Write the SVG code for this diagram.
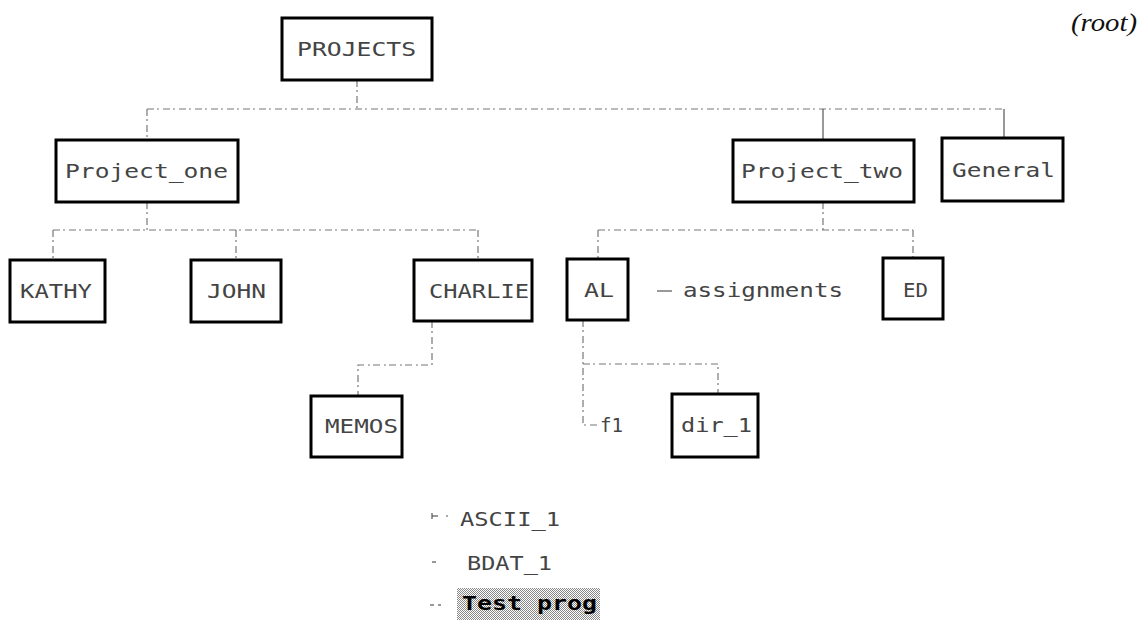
<svg xmlns="http://www.w3.org/2000/svg" width="1146" height="620" viewBox="0 0 1146 620">
<style>
.box{fill:#fff;stroke:#000;stroke-width:3}
.t{font-family:"DejaVu Sans Mono","Liberation Mono",monospace;font-size:20px;fill:#444}
.c{fill:none;stroke:#555;stroke-width:1.2}
.d{fill:none;stroke:#777;stroke-width:1.2;stroke-dasharray:7 3 2 4}
.root{font-family:"Liberation Serif",serif;font-style:italic;font-size:26px;fill:#111}
</style>
<defs>
<pattern id="shade" width="2" height="2" patternUnits="userSpaceOnUse">
<rect width="2" height="2" fill="#fff"/>
<rect width="1" height="1" fill="#888"/>
<rect x="1" y="1" width="1" height="1" fill="#888"/>
</pattern>
</defs>
<rect width="1146" height="620" fill="#fff"/>
<text class="root" x="1071" y="31" textLength="66" lengthAdjust="spacingAndGlyphs">(root)</text>
<g id="connectors">
<line class="d" x1="357" y1="80" x2="357" y2="109"/>
<line class="d" x1="147" y1="109" x2="1004" y2="109"/>
<line class="d" x1="147" y1="109" x2="147" y2="140"/>
<line class="c" x1="823" y1="109" x2="823" y2="140"/>
<line class="c" x1="1004" y1="109" x2="1004" y2="138"/>
<line class="d" x1="147" y1="202" x2="147" y2="230"/>
<line class="d" x1="53" y1="230" x2="478" y2="230"/>
<line class="d" x1="53" y1="230" x2="53" y2="260"/>
<line class="d" x1="236" y1="230" x2="236" y2="260"/>
<line class="d" x1="478" y1="230" x2="478" y2="260"/>
<line class="d" x1="823" y1="202" x2="823" y2="230"/>
<line class="d" x1="598" y1="230" x2="913" y2="230"/>
<line class="d" x1="598" y1="230" x2="598" y2="259"/>
<line class="d" x1="913" y1="230" x2="913" y2="259"/>
<polyline class="d" points="432,321 432,365 358,365 358,396"/>
<polyline class="d" points="583,320 583,425 598,425"/>
<polyline class="d" points="583,364 718,364 718,394"/>
<line class="c" x1="657" y1="291" x2="672" y2="291"/>
<line class="c" x1="432" y1="513" x2="432" y2="519"/>
<line class="c" x1="432" y1="516" x2="438" y2="516"/>
<line class="c" x1="446" y1="516" x2="448" y2="516"/>
<line class="c" x1="432" y1="562" x2="436" y2="562"/>
<line class="c" x1="430" y1="605" x2="434" y2="605"/>
<line class="c" x1="438" y1="605" x2="441" y2="605"/>
</g>
<g id="projects"><rect class="box" x="282" y="18" width="150" height="62"/><text class="t" x="297" y="56" textLength="119" lengthAdjust="spacingAndGlyphs">PROJECTS</text></g>
<g id="project_one"><rect class="box" x="56" y="140" width="182" height="62"/><text class="t" x="65" y="178" textLength="163" lengthAdjust="spacingAndGlyphs">Project_one</text></g>
<g id="project_two"><rect class="box" x="733" y="140" width="181" height="62"/><text class="t" x="741" y="178" textLength="162" lengthAdjust="spacingAndGlyphs">Project_two</text></g>
<g id="general"><rect class="box" x="942" y="138" width="121" height="63"/><text class="t" x="952" y="177" textLength="103" lengthAdjust="spacingAndGlyphs">General</text></g>
<g id="kathy"><rect class="box" x="10" y="260" width="95" height="62"/><text class="t" x="20" y="298" textLength="72" lengthAdjust="spacingAndGlyphs">KATHY</text></g>
<g id="john"><rect class="box" x="191" y="260" width="90" height="62"/><text class="t" x="207" y="298" textLength="59" lengthAdjust="spacingAndGlyphs">JOHN</text></g>
<g id="charlie"><rect class="box" x="414" y="260" width="118" height="61"/><text class="t" x="429" y="298" textLength="100" lengthAdjust="spacingAndGlyphs">CHARLIE</text></g>
<g id="al"><rect class="box" x="567" y="259" width="61" height="61"/><text class="t" x="584" y="297" textLength="30" lengthAdjust="spacingAndGlyphs">AL</text></g>
<g id="assignments"><text class="t" x="683" y="297" textLength="160" lengthAdjust="spacingAndGlyphs">assignments</text></g>
<g id="ed"><rect class="box" x="883" y="258" width="60" height="61"/><text class="t" x="903" y="297" textLength="25" lengthAdjust="spacingAndGlyphs">ED</text></g>
<g id="memos"><rect class="box" x="311" y="396" width="91" height="61"/><text class="t" x="325" y="433" textLength="73" lengthAdjust="spacingAndGlyphs">MEMOS</text></g>
<g id="f1"><text class="t" x="600" y="432" textLength="23" lengthAdjust="spacingAndGlyphs">f1</text></g>
<g id="dir_1"><rect class="box" x="672" y="394" width="86" height="63"/><text class="t" x="681" y="432" textLength="71" lengthAdjust="spacingAndGlyphs">dir_1</text></g>
<g id="ascii_1"><text class="t" x="460" y="526" textLength="100" lengthAdjust="spacingAndGlyphs">ASCII_1</text></g>
<g id="bdat_1"><text class="t" x="467" y="570" textLength="85" lengthAdjust="spacingAndGlyphs">BDAT_1</text></g>
<g id="test_prog"><rect x="457" y="588" width="143" height="32" fill="url(#shade)"/><text class="t" x="462" y="610" textLength="135" lengthAdjust="spacingAndGlyphs" style="fill:#000;font-weight:bold">Test prog</text></g>
</svg>
